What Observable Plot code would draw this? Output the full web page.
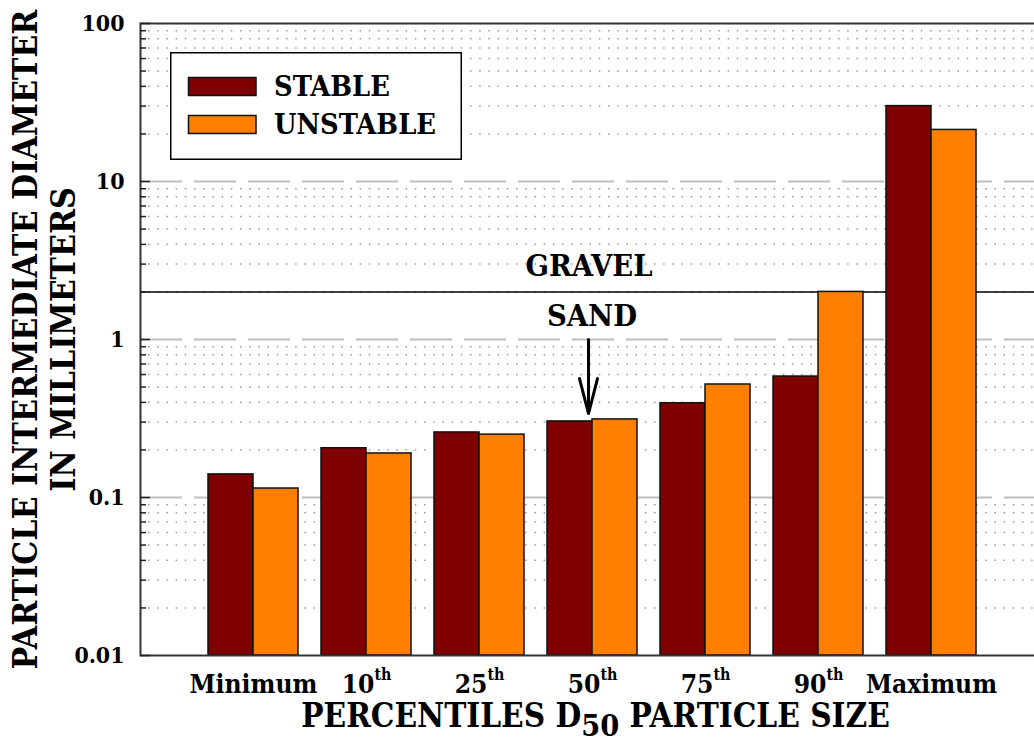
<!DOCTYPE html>
<html>
<head>
<meta charset="utf-8">
<script src="https://cdn.jsdelivr.net/npm/d3@7"></script>
<script src="https://cdn.jsdelivr.net/npm/@observablehq/plot@0.6"></script>
<style>
  html, body { margin: 0; padding: 0; background: #fff; overflow: hidden; }
  #wrap { position: relative; width: 1034px; height: 747px; overflow: hidden; }
</style>
</head>
<body>
<div id="wrap"><div id="chart"></div></div>
<script>
// ---------- data ----------
const categories = ["Minimum", "10th", "25th", "50th", "75th", "90th", "Maximum"];
const stableValues = [0.14, 0.205, 0.258, 0.303, 0.395, 0.583, 30.0];
const unstableValues = [0.114, 0.19, 0.25, 0.312, 0.519, 2.0, 21.2];
const seriesNames = ["STABLE", "UNSTABLE"];
const seriesColors = ["#7f0000", "#ff8000"];
const yDomain = [0.01, 100];
const yMajorTicks = [0.01, 0.1, 1, 10, 100];
const yTickLabels = ["0.01", "0.1", "1", "10", "100"];
const yMinorTicks = [0.02, 0.03, 0.04, 0.05, 0.06, 0.07, 0.08, 0.09,
                     0.2, 0.3, 0.4, 0.5, 0.6, 0.7, 0.8, 0.9,
                     2, 3, 4, 5, 6, 7, 8, 9,
                     20, 30, 40, 50, 60, 70, 80, 90];
const yGridDashed = [0.1, 1, 10];
const gravelSandBoundary = 2;
const zoneLabels = ["GRAVEL", "SAND"];
const arrowCategory = "50th";
const arrowFrom = 1;
const arrowTo = 0.34;
const xTitle = "PERCENTILES D50 PARTICLE SIZE";
const yTitleLines = ["PARTICLE INTERMEDIATE DIAMETER", "IN MILLIMETERS"];

// ---------- font and sizes (fit to the reference text widths) ----------
const fontStack = '"DejaVu Serif Condensed", "DejaVu Serif", serif';
const mctx = document.createElement("canvas").getContext("2d");
function fitSize(text, targetWidth) {
  mctx.font = `bold 100px ${fontStack}`;
  return 100 * targetWidth / mctx.measureText(text).width;
}
const yTickFs = fitSize("100", 43);
const xTickFs = fitSize("Minimum", 128);
const supFs = fitSize("th", 17);
const legendFs = fitSize("UNSTABLE", 162);
const zoneFs = fitSize("GRAVEL", 127);
const xTitleFs = fitSize(xTitle, 592);
const yTitleFs = fitSize(yTitleLines[0], 660);

// ---------- table ----------
const table = categories.map((c, i) => ({category: c, stable: stableValues[i], unstable: unstableValues[i]}));
const annotation = [{category: arrowCategory, from: arrowFrom, to: arrowTo}];

const chart = Plot.plot({
  width: 1060,
  height: 747,
  marginLeft: 140,
  marginRight: 16,
  marginTop: 23,
  marginBottom: 92,
  style: {fontFamily: fontStack, fontWeight: "bold", color: "#000", maxWidth: "none", background: "#fff"},
  x: {domain: categories, paddingInner: 0.2, paddingOuter: 0.6, axis: null},
  y: {type: "log", domain: yDomain, axis: null},
  marks: [
    Plot.ruleY(yMinorTicks, {stroke: "#9a9a9a", strokeWidth: 1.5, strokeDasharray: "1.5,7.7", strokeDashoffset: -8}),
    Plot.ruleY(yGridDashed, {stroke: "#bdbdbd", strokeWidth: 2, strokeDasharray: "42,12"}),
    Plot.ruleY([gravelSandBoundary], {stroke: "#000", strokeWidth: 1.5}),
    Plot.barY(table, {x: "category", y1: yDomain[0], y2: "stable", fill: seriesColors[0], stroke: "#111", strokeWidth: 1.5, insetRight: 45}),
    Plot.barY(table, {x: "category", y1: yDomain[0], y2: "unstable", fill: seriesColors[1], stroke: "#111", strokeWidth: 1.5, insetLeft: 45}),
    Plot.frame({stroke: "#333", strokeWidth: 2}),
    Plot.axisY(yMinorTicks, {tickSize: -6, tickFormat: () => "", stroke: "#222", strokeWidth: 1.5, label: null}),
    Plot.axisY(yMajorTicks, {tickSize: -10, tickPadding: 26, fontSize: yTickFs, stroke: "#222", strokeWidth: 1.5,
      tickFormat: d => yTickLabels[yMajorTicks.indexOf(d)], label: null}),
    Plot.axisX({tickSize: 0, tickPadding: 692 - 655 - 0.71 * xTickFs, fontSize: xTickFs, label: null}),
    Plot.text([zoneLabels[0]], {x: () => arrowCategory, y: () => gravelSandBoundary, text: d => d, fontSize: zoneFs,
      dy: 275 - 0.32 * zoneFs - 291, dx: -3.5}),
    Plot.text([zoneLabels[1]], {x: () => arrowCategory, y: () => gravelSandBoundary, text: d => d, fontSize: zoneFs,
      dy: 325 - 0.32 * zoneFs - 291, dx: -0.5}),
    Plot.arrow(annotation, {x: "category", y1: "from", y2: "to", stroke: "#000", strokeWidth: 3, headAngle: 30, headLength: 14, dx: -4}),
    Plot.text([xTitle], {frameAnchor: "bottom", text: d => d, fontSize: xTitleFs, dy: 737 - 655 - 0.32 * xTitleFs, dx: 3}),
    Plot.text([yTitleLines[0]], {frameAnchor: "left", textAnchor: "middle", text: d => d, fontSize: yTitleFs, rotate: -90, dx: -114.5}),
    Plot.text([yTitleLines[1]], {frameAnchor: "left", textAnchor: "middle", text: d => d, fontSize: yTitleFs, rotate: -90, dx: -76.5})
  ]
});
document.getElementById("chart").appendChild(chart);
const svg = d3.select(chart);

// superscripts on ordinal tick labels, subscript in x title
svg.selectAll("text").each(function () {
  const t = d3.select(this);
  const s = this.textContent;
  const m = /^(\d+)(th)$/.exec(s);
  if (m) {
    t.text(null);
    t.append("tspan").text(m[1]);
    t.append("tspan").attr("font-size", supFs).attr("dy", -13).text(m[2]);
  } else if (s === xTitle) {
    const parts = /^(.*D)(50)(.*)$/.exec(s);
    t.text(null);
    t.append("tspan").text(parts[1]);
    t.append("tspan").attr("font-size", xTitleFs * 0.92).attr("dy", 9).text(parts[2]);
    t.append("tspan").attr("dy", -9).text(parts[3]);
  }
});

// narrow, long arrow head like the reference (reshape the arrow path Plot drew)
svg.selectAll('g[aria-label="arrow"] path').each(function () {
  const nums = (this.getAttribute("d").match(/-?\d+(\.\d+)?(e-?\d+)?/g) || []).map(Number);
  if (nums.length < 4) return;
  const [x1, y1, x2, y2] = nums;
  const L = Math.hypot(x2 - x1, y2 - y1), ux = (x2 - x1) / L, uy = (y2 - y1) / L;
  const back = 35, half = 9;
  const bx = x2 - ux * back, by = y2 - uy * back;
  this.setAttribute("d", `M${x1},${y1}L${x2},${y2}M${bx - uy * half},${by + ux * half}L${x2},${y2}L${bx + uy * half},${by - ux * half}`);
  this.setAttribute("stroke-linejoin", "miter");
});

// legend box
const lg = svg.append("g").attr("aria-label", "legend").attr("text-anchor", "start");
lg.append("rect").attr("x", 170.75).attr("y", 52.75).attr("width", 290.5).attr("height", 106.5)
  .attr("fill", "#fff").attr("stroke", "#000").attr("stroke-width", 1.5);
const swY = [77.5, 115.5];
const lbBase = [95.5, 134];
seriesNames.forEach((name, i) => {
  lg.append("rect").attr("x", 188.5).attr("y", swY[i]).attr("width", 67.5).attr("height", 18)
    .attr("fill", seriesColors[i]).attr("stroke", "#111").attr("stroke-width", 1.5);
  lg.append("text").attr("x", 274).attr("y", lbBase[i]).attr("font-size", legendFs).attr("fill", "#000")
    .attr("text-anchor", "start").text(name);
});
</script>
</body>
</html>
